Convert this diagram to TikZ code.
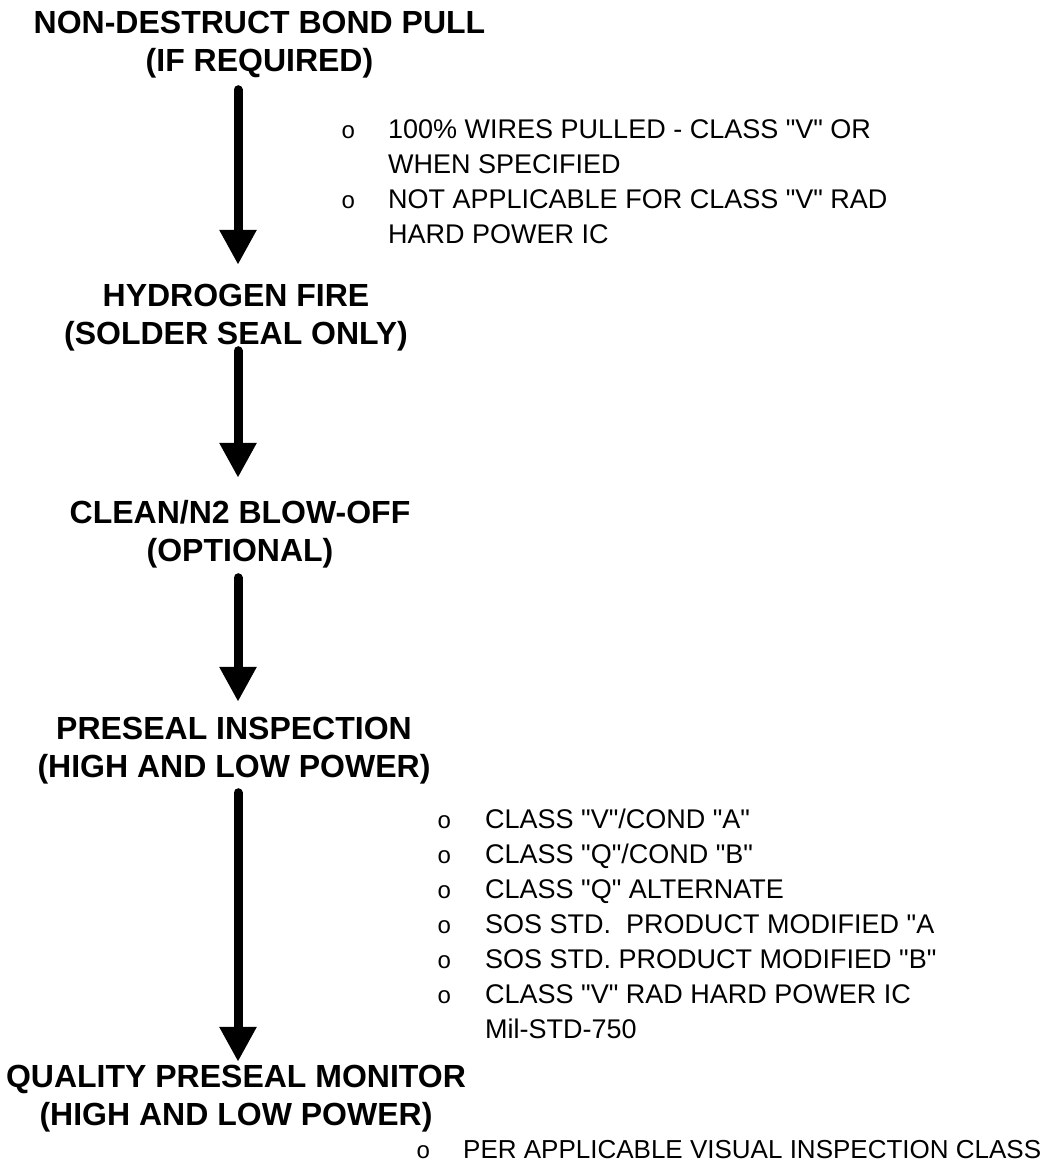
\documentclass[tikz,border=0pt]{standalone}
\usepackage{fontspec}
\setmainfont{Liberation Sans}[Ligatures=TeXOff]
\newfontfamily\bulletfont{Liberation Mono}
\usetikzlibrary{arrows.meta}
\newcommand{\bul}{{\bulletfont\fontsize{24}{35}\selectfont o}}

\begin{document}
\begin{tikzpicture}[x=1pt,y=-1pt,
    stage/.style={inner sep=0pt,anchor=base,font=\fontsize{32}{38}\selectfont\bfseries},
    note/.style={inner sep=0pt,anchor=base west,font=\fontsize{27}{35}\selectfont},
    flow/.style={line width=9pt,line cap=round,-{Triangle[length=35pt,width=35pt]}}
  ]
  \useasboundingbox (0,0) rectangle (1055,1167);
  \coordinate (spine) at (238,0);
  %% process stages
  \node[stage] (bp) at (259.5,33) {\begin{tabular}[t]{@{}c@{}}NON-DESTRUCT BOND PULL\\(IF REQUIRED)\end{tabular}};
  \node[stage] (hf) at (236,306)  {\begin{tabular}[t]{@{}c@{}}HYDROGEN FIRE\\(SOLDER SEAL ONLY)\end{tabular}};
  \node[stage] (cl) at (240,523)  {\begin{tabular}[t]{@{}c@{}}CLEAN/N2 BLOW-OFF\\(OPTIONAL)\end{tabular}};
  \node[stage] (pi) at (234,739)  {\begin{tabular}[t]{@{}c@{}}PRESEAL INSPECTION\\(HIGH AND LOW POWER)\end{tabular}};
  \node[stage] (qm) at (236,1087) {\begin{tabular}[t]{@{}c@{}}QUALITY PRESEAL MONITOR\\(HIGH AND LOW POWER)\end{tabular}};
  \foreach \a/\b/\s/\e in {bp/hf/-7.1/14.4, hf/cl/4.9/18.4, cl/pi/-5.1/10.4, pi/qm/-4.1/-1.6}
    \draw[flow] ([yshift=\s pt]\a.south -| spine) -- ([yshift=\e pt]\b.north -| spine);
  %% side notes
  \node[note] (nbp) at (341,138.5) {\begin{tabular}[t]{@{}p{47pt}@{}l@{}}
    \bul & 100\% WIRES PULLED - CLASS "V" OR\\
         & WHEN SPECIFIED\\
    \bul & NOT APPLICABLE FOR CLASS "V" RAD\\
         & HARD POWER IC\end{tabular}};
  \node[note] (npi) at (437,828) {\begin{tabular}[t]{@{}p{48pt}@{}l@{}}
    \bul & CLASS "V"/COND "A"\\
    \bul & CLASS "Q"/COND "B"\\
    \bul & CLASS "Q" ALTERNATE\\
    \bul & SOS STD.\ \ PRODUCT MODIFIED "A\\
    \bul & SOS STD. PRODUCT MODIFIED "B"\\
    \bul & CLASS "V" RAD HARD POWER IC\\
         & Mil-STD-750\end{tabular}};
  \node[note,font=\fontsize{26}{35}\selectfont] (nqm) at (416,1158) {\begin{tabular}[t]{@{}p{47pt}@{}l@{}}
    \bul & PER APPLICABLE VISUAL INSPECTION CLASS\end{tabular}};
\end{tikzpicture}
\end{document}
